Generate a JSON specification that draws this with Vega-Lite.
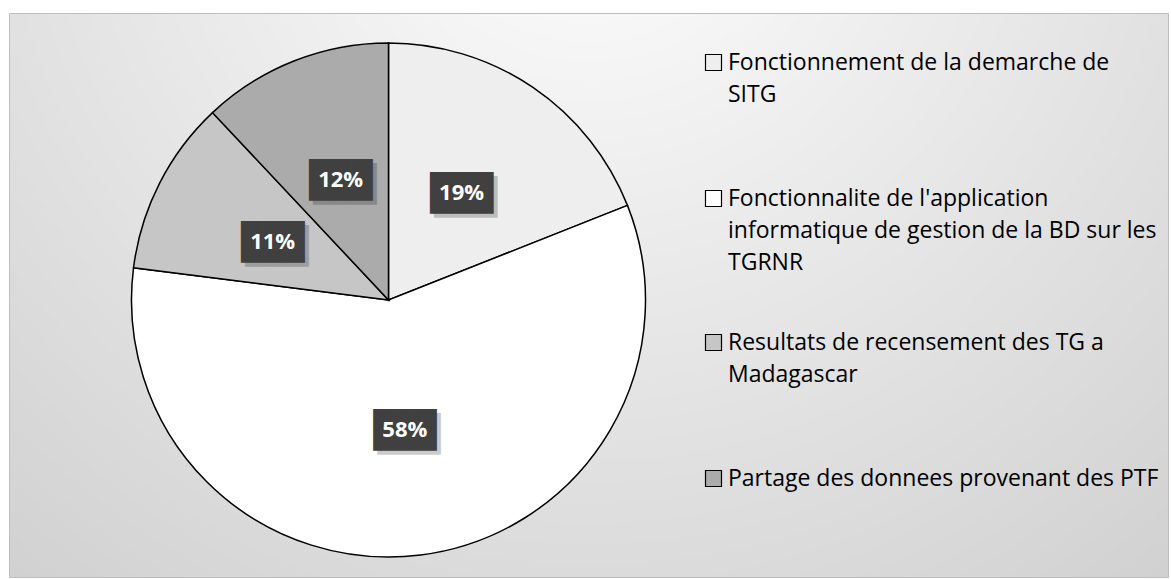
{
  "$schema": "https://vega.github.io/schema/vega-lite/v6.json",
  "width": 1159,
  "height": 564,
  "autosize": {"type": "none"},
  "padding": {"left": 9, "top": 13, "right": 3, "bottom": 2},
  "background": "white",
  "view": {
    "fill": {
      "gradient": "radial",
      "x1": 0.5, "y1": 0.12, "r1": 0,
      "x2": 0.5, "y2": 0.12, "r2": 0.95,
      "stops": [
        {"offset": 0, "color": "#ffffff"},
        {"offset": 0.3, "color": "#eeeeee"},
        {"offset": 1, "color": "#c8c8c8"}
      ]
    },
    "stroke": "#bdbdbd",
    "strokeWidth": 1
  },
  "data": {
    "values": [
      {"cat": "Fonctionnement de la demarche de SITG", "pct": 19, "order": 1, "label": "19%"},
      {"cat": "Fonctionnalite de l'application informatique de gestion de la BD sur les TGRNR", "pct": 58, "order": 2, "label": "58%"},
      {"cat": "Resultats de recensement des TG a Madagascar", "pct": 11, "order": 3, "label": "11%"},
      {"cat": "Partage des donnees provenant des PTF", "pct": 12, "order": 4, "label": "12%"}
    ]
  },
  "encoding": {
    "theta": {"field": "pct", "type": "quantitative", "stack": true},
    "order": {"field": "order", "type": "quantitative"}
  },
  "layer": [
    {
      "mark": {"type": "arc", "radius": 257, "stroke": "black", "strokeWidth": 1.5, "xOffset": -200, "yOffset": 5},
      "encoding": {
        "color": {
          "field": "cat",
          "type": "nominal",
          "scale": {
            "domain": [
              "Fonctionnement de la demarche de SITG",
              "Fonctionnalite de l'application informatique de gestion de la BD sur les TGRNR",
              "Resultats de recensement des TG a Madagascar",
              "Partage des donnees provenant des PTF"
            ],
            "range": ["#eeeeee", "#ffffff", "#c6c6c6", "#ababab"]
          },
          "legend": {
            "orient": "none",
            "legendX": 693,
            "legendY": -18.5,
            "title": null,
            "padding": 0,
            "symbolType": "square",
            "symbolSize": 256,
            "symbolStrokeColor": "black",
            "symbolStrokeWidth": 1.2,
            "labelFont": "Open Sans",
            "labelFontSize": 23,
            "labelColor": "black",
            "labelLimit": 700,
            "labelOffset": 3,
            "clipHeight": 136,
            "rowPadding": 0,
            "labelExpr": "datum.value == 'Fonctionnement de la demarche de SITG' ? ['Fonctionnement de la demarche de', 'SITG'] : datum.value == 'Resultats de recensement des TG a Madagascar' ? ['Resultats de recensement des TG a', 'Madagascar'] : datum.value == 'Partage des donnees provenant des PTF' ? datum.label : [\"Fonctionnalite de l'application\", 'informatique de gestion de la BD sur les', 'TGRNR']",
            "encode": {"labels": {"update": {"lineHeight": {"value": 32}}}}
          }
        }
      }
    },
    {
      "mark": {"type": "text", "radius": 130, "text": "███", "font": "DejaVu Sans Mono", "fontSize": 35, "color": "black", "opacity": 0.2, "xOffset": -196, "yOffset": 11}
    },
    {
      "mark": {"type": "text", "radius": 130, "text": "███", "font": "DejaVu Sans Mono", "fontSize": 35, "color": "#404040", "xOffset": -200, "yOffset": 7}
    },
    {
      "mark": {"type": "text", "radius": 130, "font": "Open Sans", "fontWeight": "bold", "fontSize": 22, "color": "white", "xOffset": -200, "yOffset": 6},
      "encoding": {"text": {"field": "label", "type": "nominal"}}
    }
  ]
}
